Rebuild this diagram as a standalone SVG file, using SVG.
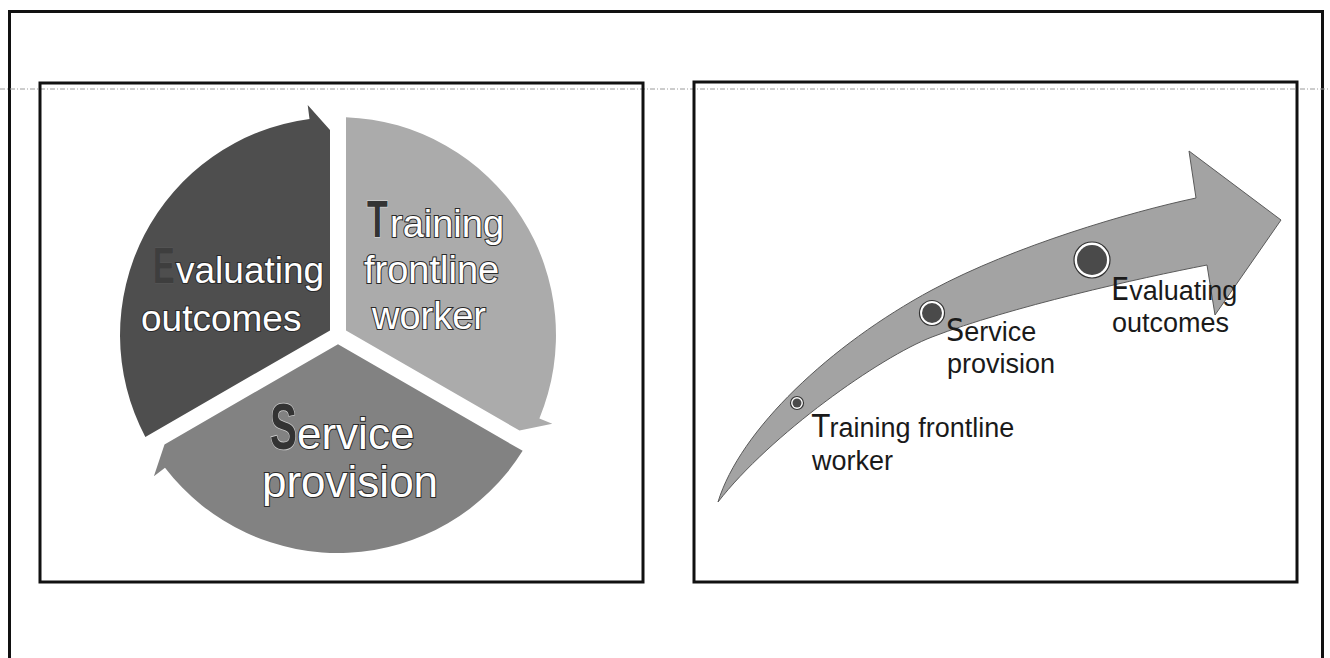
<svg xmlns="http://www.w3.org/2000/svg" width="1330" height="658" viewBox="0 0 1330 658">
  <style>
    .frame { fill: none; stroke: #111; stroke-width: 3; }
    .scanline { stroke: #9a9a9a; stroke-width: 1; stroke-dasharray: 5 2 1 2; }
    .pie { font-family: "Liberation Sans", Arial, sans-serif; fill: #ffffff; stroke: #2a2a2a; stroke-width: 2; paint-order: stroke; }
    .piecap { font-family: "Liberation Sans", Arial, sans-serif; font-weight: bold; fill: #333; stroke: #cfcfcf; stroke-width: 1.5; paint-order: stroke; }
    .step { font-family: "Liberation Sans", Arial, sans-serif; font-size: 27px; fill: #1a1a1a; }
    .cap { font-family: "Liberation Sans Narrow", "DejaVu Sans Condensed", "Liberation Sans", sans-serif; font-size: 32px; }
    .dot-ring { fill: #ffffff; stroke: #333; stroke-width: 1.2; }
    .dot-core { fill: #4a4a4a; }
  </style>

  <rect width="1330" height="658" fill="#ffffff"/>

  <g id="frame">
    <path class="frame" d="M9.5,658 V11.5 H1322.5 V658"/>
    <line class="scanline" x1="0" y1="89" x2="1330" y2="89"/>
    <rect id="panel-left" class="frame" x="40" y="83" width="603" height="499"/>
    <rect id="panel-right" class="frame" x="694" y="82" width="603" height="500"/>
  </g>

  <!-- Left: segmented cycle -->
  <g id="seg-training">
    <path d="M346,117.15 A218,218 0 0 1 539.4,418.4 L552.3,423.8 L519.5,430.6 L346,330.4 Z" fill="#ababab"/>
    <text class="piecap" transform="translate(367,237) scale(0.65,1)" font-size="52">T</text>
    <text class="pie" x="390" y="237" font-size="38">raining</text>
    <text class="pie" x="364" y="283" font-size="38">frontline</text>
    <text class="pie" x="372" y="329" font-size="38">worker</text>
  </g>

  <g id="seg-service">
    <path d="M522.66,450.86 A218,218 0 0 1 165,467.7 L153.9,476.2 L164.5,444.4 L338,344.2 Z" fill="#828282"/>
    <text class="piecap" transform="translate(270,449) scale(0.63,1)" font-size="64">S</text>
    <text class="pie" x="297" y="449" font-size="44">ervice</text>
    <text class="pie" x="262" y="497" font-size="44">provision</text>
  </g>

  <g id="seg-evaluating">
    <path d="M145.34,437 A218,218 0 0 1 309.5,118.9 L307.7,105 L330,130 L330,330.4 Z" fill="#4e4e4e"/>
    <text class="piecap" transform="translate(153,283) scale(0.65,1)" font-size="50" style="fill:#3e3e3e;stroke:#575757;stroke-width:1">E</text>
    <text class="pie" x="176" y="283" font-size="37">valuating</text>
    <text class="pie" x="141" y="331" font-size="37">outcomes</text>
  </g>

  <!-- Right: rising arrow with steps -->
  <g id="connectors">
    <path id="rising-arrow" d="M718,502 C740,430 830,345 932,290 C1014,246 1130,212 1196,198 L1189,151 L1281,220 L1215,315 L1207,265 C1140,278 1010,307 932,337 C880,357 770,435 718,502 Z" fill="#a3a3a3" stroke="#5a5a5a" stroke-width="1"/>
  </g>

  <g id="step-training">
    <circle class="dot-ring" cx="797" cy="403" r="6.5"/>
    <circle class="dot-core" cx="797" cy="403" r="4.5"/>
    <text class="step" x="812" y="437"><tspan class="cap">T</tspan>raining frontline<tspan x="812" dy="33">worker</tspan></text>
  </g>

  <g id="step-service">
    <circle class="dot-ring" cx="932" cy="313" r="12.5"/>
    <circle class="dot-core" cx="932" cy="313" r="10"/>
    <text class="step" x="946" y="341"><tspan class="cap">S</tspan>ervice<tspan x="947" dy="32">provision</tspan></text>
  </g>

  <g id="step-evaluating">
    <circle class="dot-ring" cx="1092" cy="260" r="18"/>
    <circle class="dot-core" cx="1092" cy="260" r="15"/>
    <text class="step" x="1111" y="300"><tspan class="cap">E</tspan>valuating<tspan x="1112" dy="32">outcomes</tspan></text>
  </g>
</svg>
